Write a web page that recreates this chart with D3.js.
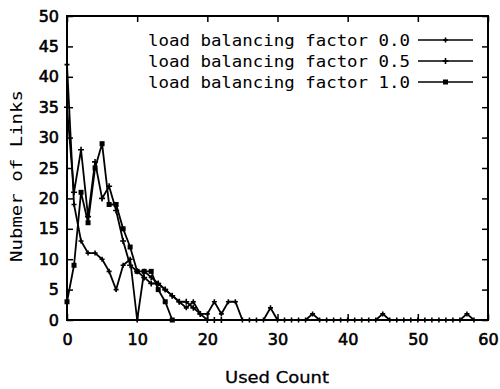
<!DOCTYPE html>
<html><head><meta charset="utf-8">
<script src="https://cdn.jsdelivr.net/npm/d3@7"></script>
<style>body{margin:0;background:#fff;}svg{display:block;}</style>
</head><body>
<script>
const xTicks = [0,10,20,30,40,50,60];
const yTicks = [0,5,10,15,20,25,30,35,40,45,50];
const seriesNames = ["load balancing factor 0.0","load balancing factor 0.5","load balancing factor 1.0"];
// factor 0.0 (long tail)
const s00 = [42,19,13,11,11,10,8,5,9,10,0,8,7,6,5,4,3,2,3,1,1,3,1,3,3,0,0,0,0,2,0,0,0,0,0,1,0,0,0,0,0,0,0,0,0,1,0,0,0,0,0,0,0,0,0,0,0,1,0];
// factor 0.5
const s05 = [35,21,28,17,26,20,22,18,13,9,8,7,6,6,5,4,3,3,2,1,0,0,0];
// factor 1.0
const s10 = [3,9,21,16,25,29,19,19,15,12,8,8,8,5,3,0];

const W=500,H=389;
const svg=d3.select("body").append("svg").attr("width",W).attr("height",H);
const x=d3.scaleLinear().domain([0,60]).range([67,488]);
const y=d3.scaleLinear().domain([0,50]).range([320,16]);
const mono="'DejaVu Sans Mono', monospace";
const sans="'DejaVu Sans', sans-serif";
const g=svg.append("g");

// frame
g.append("rect").attr("x",x(0)).attr("y",y(50)).attr("width",x(60)-x(0)).attr("height",y(0)-y(50))
 .attr("fill","none").attr("stroke","#000").attr("stroke-width",2);

// axes with inward ticks
const ax=d3.axisBottom(x).tickValues(xTicks).tickSize(-6).tickPadding(14).tickFormat(d3.format("d"));
const ay=d3.axisLeft(y).tickValues(yTicks).tickSize(-6).tickPadding(8).tickFormat(d3.format("d"));
g.append("g").attr("transform",`translate(0,${y(0)})`).call(ax);
g.append("g").attr("transform",`translate(${x(0)},0)`).call(ay);
const axT=d3.axisTop(x).tickValues(xTicks).tickSize(-6).tickFormat("");
const ayR=d3.axisRight(y).tickValues(yTicks).tickSize(-6).tickFormat("");
g.append("g").attr("transform",`translate(0,${y(50)})`).call(axT);
g.append("g").attr("transform",`translate(${x(60)},0)`).call(ayR);
g.selectAll(".domain").remove();
g.selectAll(".tick line").attr("stroke","#000").attr("stroke-width",1.5);
g.selectAll(".tick text").attr("font-family",sans).attr("font-size",16).attr("fill","#000")
 .attr("stroke","#000").attr("stroke-width",0.6);

// lines
const line=d3.line().x((d,i)=>x(i)).y(d=>y(d));
[s00,s05,s10].forEach(s=>{
  g.append("path").datum(s).attr("d",line).attr("fill","none").attr("stroke","#000").attr("stroke-width",1.8);
});
// markers
function plus(sel,cx,cy,r){
  sel.append("path").attr("d",`M${cx-r},${cy}H${cx+r}M${cx},${cy-r}V${cy+r}`).attr("stroke","#000").attr("stroke-width",1.6);
}
s00.forEach((d,i)=>plus(g,x(i),y(d),2.5));
s05.forEach((d,i)=>plus(g,x(i),y(d),3));
g.selectAll(".sq").data(s10).enter().append("rect")
 .attr("x",(d,i)=>x(i)-2.5).attr("y",d=>y(d)-2.5).attr("width",5).attr("height",5).attr("fill","#000");

// legend
const ly=[40,61,82];
seriesNames.forEach((n,i)=>{
  g.append("text").attr("x",410).attr("y",ly[i]).attr("dy","0.35em").attr("text-anchor","end")
   .attr("font-family",mono).attr("font-size",16).attr("textLength",262).attr("lengthAdjust","spacingAndGlyphs").text(n);
  g.append("line").attr("x1",418).attr("x2",473).attr("y1",ly[i]).attr("y2",ly[i]).attr("stroke","#000").attr("stroke-width",1.6);
  const cx=445.5;
  if(i<2) plus(g,cx,ly[i],i==0?2.5:3);
  else g.append("rect").attr("x",cx-2.5).attr("y",ly[i]-2.5).attr("width",5).attr("height",5).attr("fill","#000");
});

// axis titles
svg.append("text").attr("x",277).attr("y",377).attr("dy","0.35em").attr("text-anchor","middle")
 .attr("font-family",sans).attr("font-size",16).attr("textLength",104).attr("lengthAdjust","spacingAndGlyphs")
 .attr("stroke","#000").attr("stroke-width",0.3).text("Used Count");
svg.append("text").attr("transform","translate(16,176) rotate(-90)").attr("dy","0.35em").attr("text-anchor","middle")
 .attr("font-family",mono).attr("font-size",16).attr("textLength",172).attr("lengthAdjust","spacingAndGlyphs").text("Nubmer of Links");
</script>
</body></html>
